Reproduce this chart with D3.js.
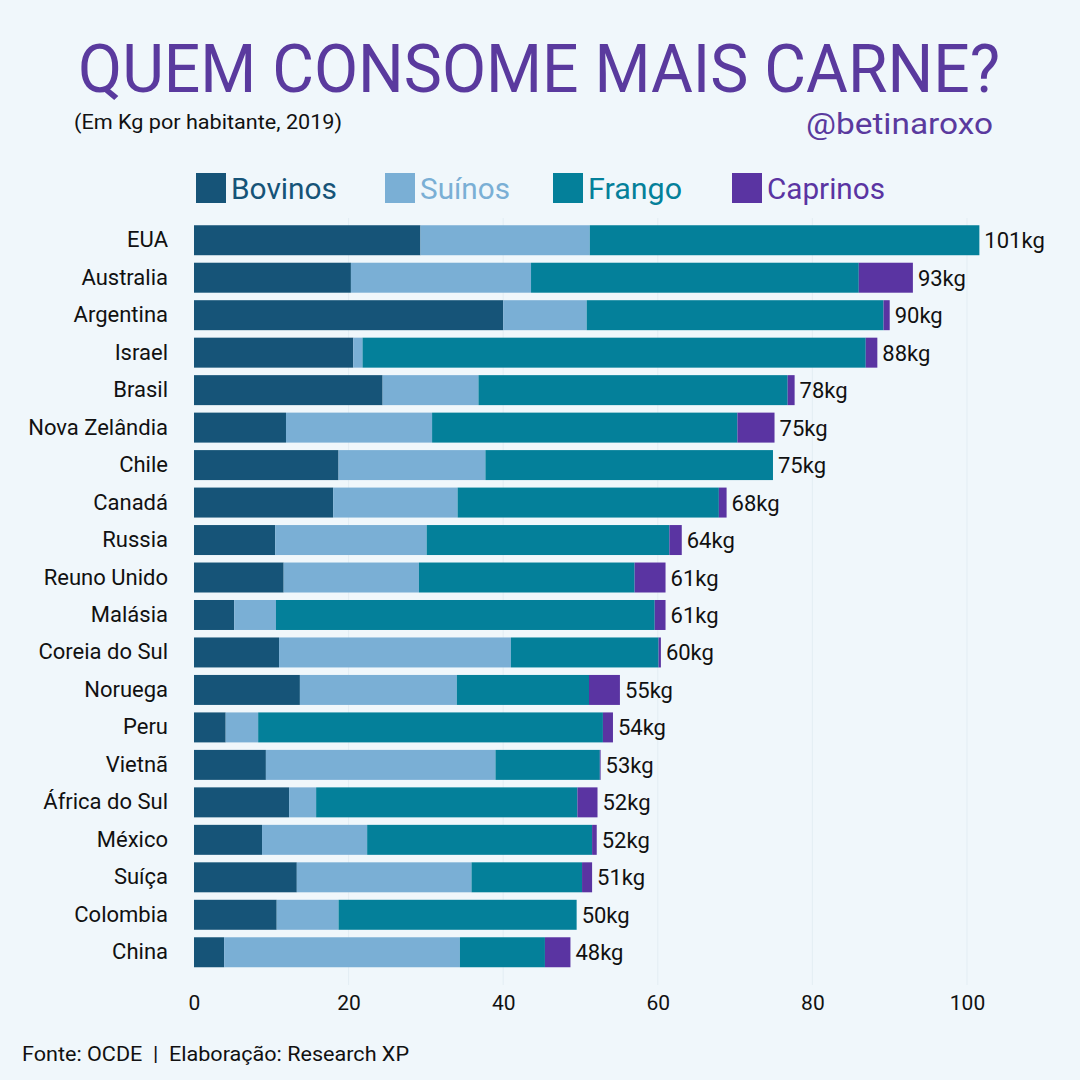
<!DOCTYPE html>
<html>
<head>
<meta charset="utf-8">
<script src="https://cdn.jsdelivr.net/npm/d3@7"></script>
<style>
  html, body { margin: 0; padding: 0; background: #f0f7fb; }
  svg { display: block; }
</style>
</head>
<body>
<div id="chart"></div>
<script>
const countries = ["EUA","Australia","Argentina","Israel","Brasil","Nova Zelândia","Chile","Canadá","Russia","Reuno Unido","Malásia","Coreia do Sul","Noruega","Peru","Vietnã","África do Sul","México","Suíça","Colombia","China"];
const bovinos  = [29.3, 20.3, 40.0, 20.6, 24.4, 11.9, 18.7, 18.0, 10.5, 11.6, 5.2, 11.0, 13.7, 4.1, 9.3, 12.3, 8.8, 13.3, 10.7, 3.9];
const suinos   = [21.9, 23.3, 10.8, 1.2, 12.4, 18.9, 19.0, 16.1, 19.6, 17.5, 5.4, 30.0, 20.3, 4.2, 29.7, 3.5, 13.6, 22.6, 8.0, 30.5];
const frango   = [50.4, 42.4, 38.4, 65.1, 40.0, 39.5, 37.2, 33.8, 31.4, 27.9, 49.0, 19.1, 17.1, 44.6, 13.5, 33.8, 29.1, 14.3, 30.8, 11.0];
const caprinos = [0, 7.0, 0.8, 1.5, 0.9, 4.8, 0, 1.0, 1.6, 4.0, 1.4, 0.3, 4.0, 1.3, 0.1, 2.6, 0.6, 1.3, 0, 3.3];
const totalLabels = ["101kg","93kg","90kg","88kg","78kg","75kg","75kg","68kg","64kg","61kg","61kg","60kg","55kg","54kg","53kg","52kg","52kg","51kg","50kg","48kg"];
const seriesNames = ["Bovinos","Suínos","Frango","Caprinos"];
const xTicks = [0, 20, 40, 60, 80, 100];

const colors = ["#165478", "#7aafd5", "#04809a", "#5a34a2"];
const W = 1080, H = 1080;
const font = "Roboto, 'Noto Sans', sans-serif";

const svg = d3.select("#chart").append("svg").attr("width", W).attr("height", H);
svg.append("rect").attr("width", W).attr("height", H).attr("fill", "#f0f7fb");

const x = d3.scaleLinear().domain([0, 100]).range([194, 967]);
const y = d3.scaleBand().domain(countries).range([221.5, 971]).paddingInner(0.2).paddingOuter(0.1);

// title
svg.append("text").attr("x", 78).attr("y", 92).attr("textLength", 922).attr("lengthAdjust", "spacingAndGlyphs")
  .attr("font-family", font).attr("font-size", 67).attr("fill", "#5a3a9e").text("QUEM CONSOME MAIS CARNE?");
svg.append("text").attr("x", 74).attr("y", 129).attr("textLength", 268).attr("lengthAdjust", "spacingAndGlyphs")
  .attr("font-family", font).attr("font-size", 20).attr("fill", "#111").text("(Em Kg por habitante, 2019)");
svg.append("text").attr("x", 806).attr("y", 134).attr("textLength", 187).attr("lengthAdjust", "spacingAndGlyphs")
  .attr("font-family", font).attr("font-size", 29).attr("fill", "#5a3a9e").text("@betinaroxo");

// legend
const legendX = [196, 385, 553, 732];
const legendW = [106, 90, 94, 118];
seriesNames.forEach((s, i) => {
  svg.append("rect").attr("x", legendX[i]).attr("y", 173).attr("width", 30).attr("height", 30).attr("fill", colors[i]);
  svg.append("text").attr("x", legendX[i] + 35).attr("y", 199).attr("textLength", legendW[i]).attr("lengthAdjust", "spacingAndGlyphs")
    .attr("font-family", font).attr("font-size", 29).attr("fill", colors[i]).text(s);
});

// gridlines
svg.append("g").selectAll("line").data(xTicks.slice(1)).join("line")
  .attr("x1", d => x(d)).attr("x2", d => x(d)).attr("y1", 218).attr("y2", 985)
  .attr("stroke", "#e3edf3").attr("stroke-width", 1);

// stacked data
const rows = countries.map((c, i) => ({ country: c, Bovinos: bovinos[i], "Suínos": suinos[i], Frango: frango[i], Caprinos: caprinos[i], label: totalLabels[i] }));
const stack = d3.stack().keys(seriesNames)(rows);

svg.append("g").selectAll("g").data(stack).join("g").attr("fill", (d, i) => colors[i])
  .selectAll("rect").data(d => d).join("rect")
  .attr("x", d => x(d[0])).attr("width", d => Math.max(0, x(d[1]) - x(d[0])))
  .attr("y", d => y(d.data.country)).attr("height", y.bandwidth());

// value labels
const last = stack[stack.length - 1];
svg.append("g").selectAll("text").data(last).join("text")
  .attr("x", d => x(d[1]) + 5).attr("y", d => y(d.data.country) + y.bandwidth() / 2 + 8)
  .attr("font-family", font).attr("font-size", 22).attr("fill", "#111").text(d => d.data.label);

// country labels
svg.append("g").selectAll("text").data(countries).join("text")
  .attr("x", 168).attr("y", d => y(d) + y.bandwidth() / 2 + 7).attr("text-anchor", "end")
  .attr("font-family", font).attr("font-size", 22).attr("fill", "#111").text(d => d);

// x axis
const xAxis = d3.axisBottom(x).tickValues(xTicks).tickSize(0).tickPadding(0);
const ax = svg.append("g").attr("transform", "translate(0,991)").call(xAxis);
ax.select(".domain").remove();
ax.selectAll("text").attr("font-family", font).attr("font-size", 21).attr("fill", "#111").attr("dy", "0.9em");

// footer
svg.append("text").attr("x", 22).attr("y", 1061).attr("textLength", 387).attr("lengthAdjust", "spacingAndGlyphs")
  .attr("font-family", font).attr("font-size", 20).attr("fill", "#111").attr("xml:space", "preserve")
  .text("Fonte: OCDE  |  Elaboração: Research XP");
</script>
</body>
</html>
